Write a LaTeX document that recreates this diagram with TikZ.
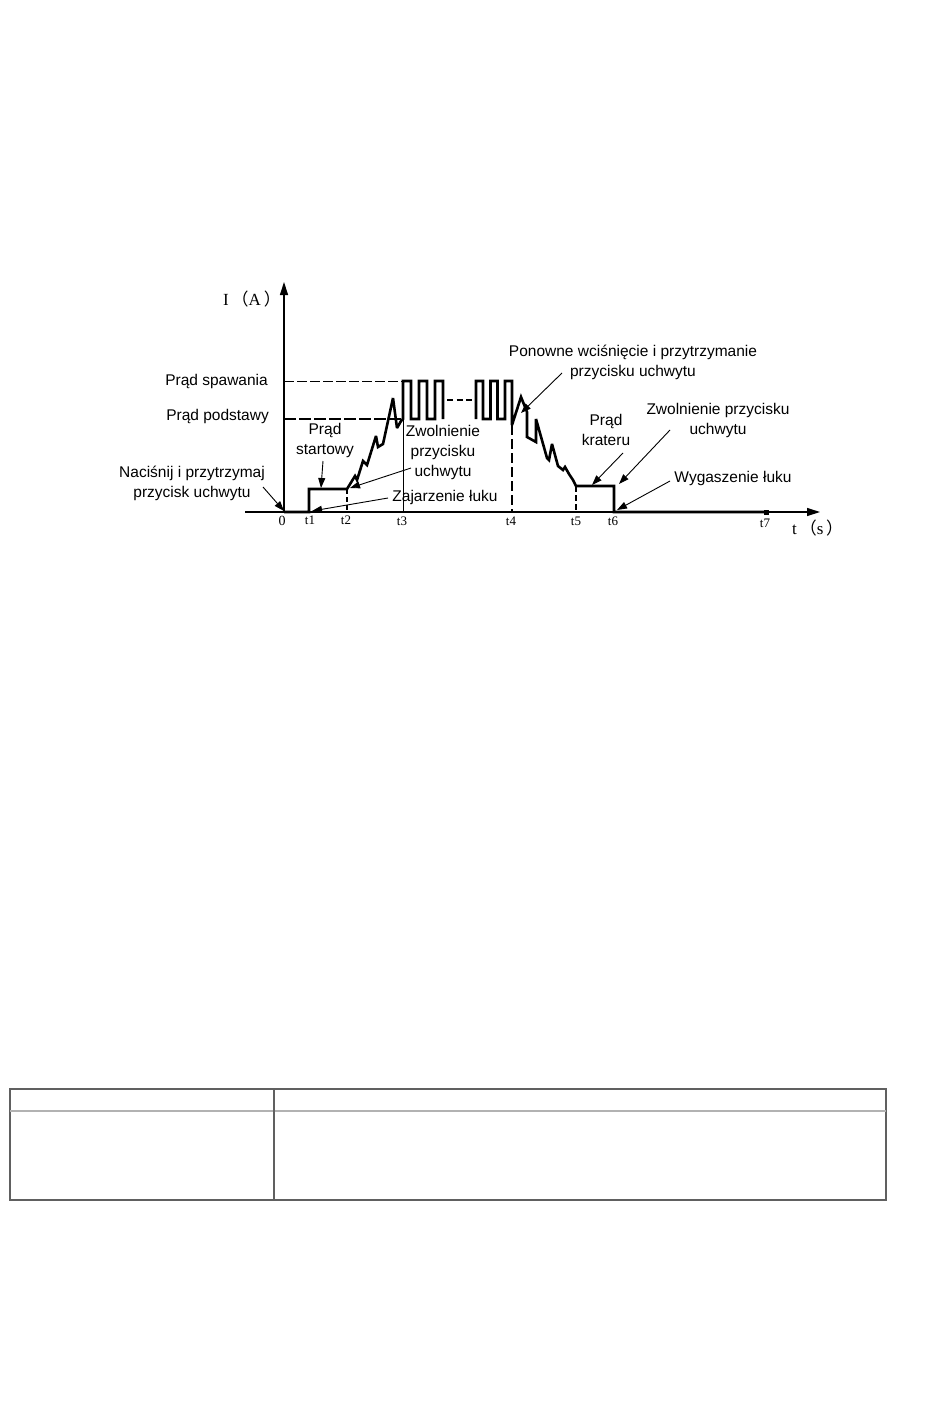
\documentclass[tikz,border=0pt]{standalone}
\usepackage{fontspec}
\setmainfont{Liberation Sans}
\newfontfamily\lser{Liberation Serif}
\newfontfamily\cjk{Noto Sans CJK SC}
\usetikzlibrary{arrows.meta}
\begin{document}
\begin{tikzpicture}[x=1pt,y=-1pt,
  lbl/.style={font=\fontsize{15.5}{20}\selectfont, align=center, inner sep=0pt},
  ticklbl/.style={font=\lser\fontsize{13}{13}\selectfont, inner sep=0pt},
  wave/.style={line width=2.6pt, line join=miter, miter limit=3},
  ptr/.style={line width=0.9pt, -{Triangle[length=10pt,width=7pt]}},
  axisline/.style={line width=1.3pt, -{Triangle[length=13pt,width=8pt]}},
  tbl/.style={draw=gray!75!black, line width=1.2pt},
  ]
\useasboundingbox (0,0) rectangle (950,1419);

% axes
\coordinate (xs) at (245,512);
\coordinate (xe) at (820,512);
\coordinate (O) at (284,512);
\coordinate (ye) at (284,282);
\draw[axisline] (xs) -- (xe);
\draw[axisline] (O) -- (ye);
\node[font=\lser\fontsize{17}{17}\selectfont, anchor=west, inner sep=0pt] (ylab) at (223,299) {I\,{\cjk（}A\,{\cjk）}};
\node[font=\lser\fontsize{17}{17}\selectfont, anchor=west, inner sep=0pt] (xlab) at (792,528) {t\,{\cjk（}s\,{\cjk）}};

% level lines
\draw[line width=0.8pt, dash pattern=on 10pt off 3pt] (284,381) -- (403,381);
\draw[line width=1.7pt, dash pattern=on 12pt off 3pt] (284,419) -- (403,419);
\node[lbl, anchor=east] (spaw) at (268,381) {Prąd spawania};
\node[lbl, anchor=east] (podst) at (269,416) {Prąd podstawy};

% vertical markers
\draw[line width=1.3pt, dash pattern=on 5pt off 3pt] (347,489) -- (347,512);
\draw[line width=0.8pt] (403,419) -- (403,512);
\draw[line width=1.5pt, dash pattern=on 10pt off 4pt] (512,425) -- (512,512);
\draw[line width=1.3pt, dash pattern=on 6pt off 3pt] (576,486) -- (576,512);

% waveform
\draw[wave] (284,512) -- (309,512) -- (309,489) -- (347,489)
  -- (355,476) -- (357,480) -- (363,461) -- (367,465) -- (376,436)
  -- (378,447) -- (383,444) -- (393,398) -- (397,428) -- (401,421)
  -- (403,419) -- (403,381) -- (411,381) -- (411,419) -- (419,419)
  -- (419,381) -- (427,381) -- (427,419) -- (435,419) -- (435,381)
  -- (443,381) -- (443,419);
\draw[wave, dash pattern=on 6pt off 3.5pt] (447,400) -- (472,400);
\draw[wave] (476,419) -- (476,381) -- (483,381) -- (483,419) -- (490.5,419)
  -- (490.5,381) -- (497.5,381) -- (497.5,419) -- (505,419) -- (505,381)
  -- (512,381) -- (512,425) -- (521,397) -- (527,412) -- (527,437)
  -- (536,442) -- (536,419) -- (547,458) -- (549,460) -- (552,444)
  -- (558,466) -- (563,470) -- (565,467) -- (569,474) -- (573,480)
  -- (576,486) -- (614,486) -- (614,512) -- (766,512);
\node[fill, minimum size=5pt, inner sep=0pt] (t7m) at (766,512) {};

% tick labels
\node[ticklbl, font=\lser\fontsize{14}{14}\selectfont] (l0) at (282,521) {0};
\node[ticklbl] (l1) at (310,520) {t1};
\node[ticklbl] (l2) at (346,520) {t2};
\node[ticklbl] (l3) at (402,521) {t3};
\node[ticklbl] (l4) at (511,521) {t4};
\node[ticklbl] (l5) at (576,521) {t5};
\node[ticklbl] (l6) at (613,521) {t6};
\node[ticklbl] (l7) at (765,523) {t7};

% labels
\node[lbl] (nac) at (192,483) {Naciśnij i przytrzymaj\\przycisk uchwytu};
\node[lbl] (start) at (325,440) {Prąd\\startowy};
\node[lbl] (zw1) at (443,452) {Zwolnienie\\przycisku\\uchwytu};
\node[lbl] (zaj) at (445,497) {Zajarzenie łuku};
\node[lbl] (pon) at (633,362) {Ponowne wciśnięcie i przytrzymanie\\przycisku uchwytu};
\node[lbl] (krat) at (606,430) {Prąd\\krateru};
\node[lbl] (zw2) at (718,420) {Zwolnienie przycisku\\uchwytu};
\node[lbl] (wyg) at (733,478) {Wygaszenie łuku};

% pointers
\coordinate (p1a) at (263,487); \coordinate (p1b) at (284,511);
\coordinate (p2a) at (323,461); \coordinate (p2b) at (321,488);
\coordinate (p3a) at (411,468); \coordinate (p3b) at (350,488);
\coordinate (p4a) at (388,498); \coordinate (p4b) at (312,511);
\coordinate (p5a) at (562,373); \coordinate (p5b) at (521,413);
\coordinate (p6a) at (623,453); \coordinate (p6b) at (592,485);
\coordinate (p7a) at (670,430); \coordinate (p7b) at (619,484);
\coordinate (p8a) at (670,481); \coordinate (p8b) at (617,510);
\draw[ptr] (p1a) -- (p1b);
\draw[ptr] (p2a) -- (p2b);
\draw[ptr] (p3a) -- (p3b);
\draw[ptr] (p4a) -- (p4b);
\draw[ptr] (p5a) -- (p5b);
\draw[ptr] (p6a) -- (p6b);
\draw[ptr] (p7a) -- (p7b);
\draw[ptr] (p8a) -- (p8b);

% table
\draw[tbl] (10,1089) rectangle (886,1200);
\draw[tbl, draw=gray!60] (10,1111) -- (886,1111);
\draw[tbl] (274,1089) -- (274,1200);
\end{tikzpicture}
\end{document}
